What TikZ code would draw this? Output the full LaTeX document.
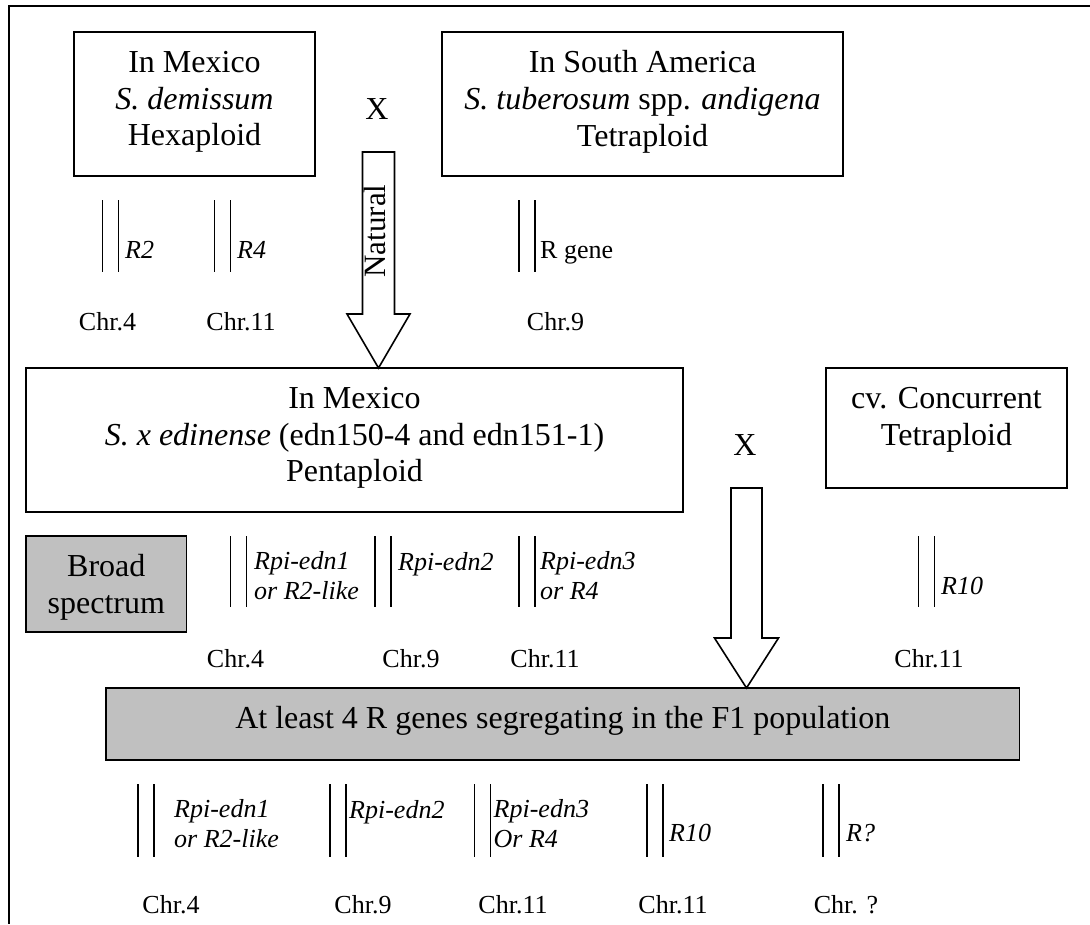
\documentclass[tikz,border=0pt]{standalone}
\usepackage{fontspec}
\setmainfont{Liberation Serif}
\usetikzlibrary{calc}
\definecolor{boxgray}{HTML}{C0C0C0}
\newcommand{\chrpair}[3]{\draw[chrom] (#1,#2) -- (#1,#3); \draw[chrom] (#1+16,#2) -- (#1+16,#3);}
\tikzset{
  frameline/.style={line width=2.3pt},
  box/.style={draw, line width=1.6pt, inner sep=0pt, outer sep=0pt},
  graybox/.style={box, fill=boxgray},
  maintext/.style={font=\fontsize{32}{36.8}\selectfont, align=center, inner sep=0pt},
  lab/.style={font=\fontsize{26}{29.9}\selectfont\itshape, align=left, inner sep=0pt},
  chr/.style={font=\fontsize{26}{29.9}\selectfont, inner sep=0pt, anchor=base},
  chrom/.style={line width=1.6pt},
  blockarrow/.style={draw, line width=1.6pt, fill=white, line join=miter},
}
\begin{document}
\begin{tikzpicture}[x=1pt,y=-1pt]
\useasboundingbox (0,0) rectangle (1090,924);
\fill[white] (0,0) rectangle (1090,924);
\draw[frameline] (1090,6) -- (8.7,6) -- (8.7,924);

% boxes
\node[box, minimum width=241pt, minimum height=144pt] (b1) at (194.5,104) {};
\node[maintext] (t1) at (194.5,102) {In Mexico\\\textit{S. demissum}\\Hexaploid};
\node[box, minimum width=401pt, minimum height=144pt] (b2) at (642.5,104) {};
\node[maintext] (t2) at (642.5,102) {In South America\\\textit{S. tuberosum} spp. \textit{andigena}\\Tetraploid};
\node[box, minimum width=657pt, minimum height=144pt] (b3) at (354.5,440) {};
\node[maintext] (t3) at (354.5,438) {In Mexico\\\textit{S. x edinense} (edn150-4 and edn151-1)\\Pentaploid};
\node[box, minimum width=241pt, minimum height=120pt] (b4) at (946.5,428) {};
\node[maintext] (t4) at (946.5,420) {cv. Concurrent\\Tetraploid};
\node[graybox, minimum width=160.6pt, minimum height=96pt] (bs) at (106.3,584) {};
\node[maintext] (tbs) at (106.3,587) {Broad\\spectrum};
\node[graybox, minimum width=913.5pt, minimum height=72pt] (g) at (562.75,724) {};
\node[maintext, anchor=base] (tg) at (562.75,728) {At least 4 R genes segregating in the F1 population};

% crosses
\node[maintext, anchor=base] (x1) at (377,119) {X};
\node[maintext, anchor=base] (x2) at (745,455) {X};

% block arrows
\coordinate (a1top) at (378.5,152);
\coordinate (a1tip) at (a1top |- b3.north);
\draw[blockarrow] ($(a1top)+(-16,0)$) -- ($(a1top)+(16,0)$) -- ($(a1top)+(16,162)$)
  -- ($(a1top)+(31.5,162)$) -- (a1tip) -- ($(a1top)+(-31.5,162)$) -- ($(a1top)+(-16,162)$) -- cycle;
\node[maintext, font=\fontsize{31}{35}\selectfont, rotate=90] (nat) at (375,231) {Natural};

\coordinate (a2x) at (746.5,0);
\coordinate (a2top) at (a2x |- b4.south);
\coordinate (a2tip) at (a2x |- g.north);
\draw[blockarrow] ($(a2top)+(-15.5,0)$) -- ($(a2top)+(15.5,0)$) -- ($(a2top)+(15.5,150)$)
  -- ($(a2top)+(32,150)$) -- (a2tip) -- ($(a2top)+(-32,150)$) -- ($(a2top)+(-15.5,150)$) -- cycle;

% row 1 chromosomes
\chrpair{102.5}{200}{272}
\chrpair{214.5}{200}{272}
\chrpair{519}{200}{272}
\node[lab, anchor=base west] (l11) at (125,258) {R2};
\node[lab, anchor=base west] (l12) at (237,258) {R4};
\node[lab, font=\fontsize{26}{29.9}\selectfont, anchor=base west] (l13) at (540,258) {R gene};
\node[chr] (c11) at (107.5,330) {Chr.4};
\node[chr] (c12) at (241,330) {Chr.11};
\node[chr] (c13) at (555.5,330) {Chr.9};

% row 2 chromosomes
\chrpair{230.5}{536}{607}
\chrpair{374.7}{536}{607}
\chrpair{519}{536}{607}
\chrpair{918.6}{536}{607}
\node[lab, anchor=west] (l21) at (254,576) {Rpi-edn1\\or R2-like};
\node[lab, anchor=base west] (l22) at (398,570) {Rpi-edn2};
\node[lab, anchor=west] (l23) at (540,576) {Rpi-edn3\\or R4};
\node[lab, anchor=base west] (l24) at (941,594) {R10};
\node[chr] (c21) at (235.5,667) {Chr.4};
\node[chr] (c22) at (411,667) {Chr.9};
\node[chr] (c23) at (545,667) {Chr.11};
\node[chr] (c24) at (929,667) {Chr.11};

% row 3 chromosomes
\chrpair{138}{784}{857}
\chrpair{330}{784}{857}
\chrpair{474.5}{784}{857}
\chrpair{647}{784}{857}
\chrpair{823}{784}{857}
\node[lab, anchor=west] (l31) at (174,824) {Rpi-edn1\\or R2-like};
\node[lab, anchor=base west] (l32) at (349,818) {Rpi-edn2};
\node[lab, anchor=west] (l33) at (493.5,824) {Rpi-edn3\\Or R4};
\node[lab, anchor=base west] (l34) at (669,841) {R10};
\node[lab, anchor=base west] (l35) at (846,841) {R?};
\node[chr] (c31) at (171,913) {Chr.4};
\node[chr] (c32) at (363,913) {Chr.9};
\node[chr] (c33) at (513,913) {Chr.11};
\node[chr] (c34) at (673,913) {Chr.11};
\node[chr] (c35) at (846,913) {Chr. ?};
\end{tikzpicture}
\end{document}
